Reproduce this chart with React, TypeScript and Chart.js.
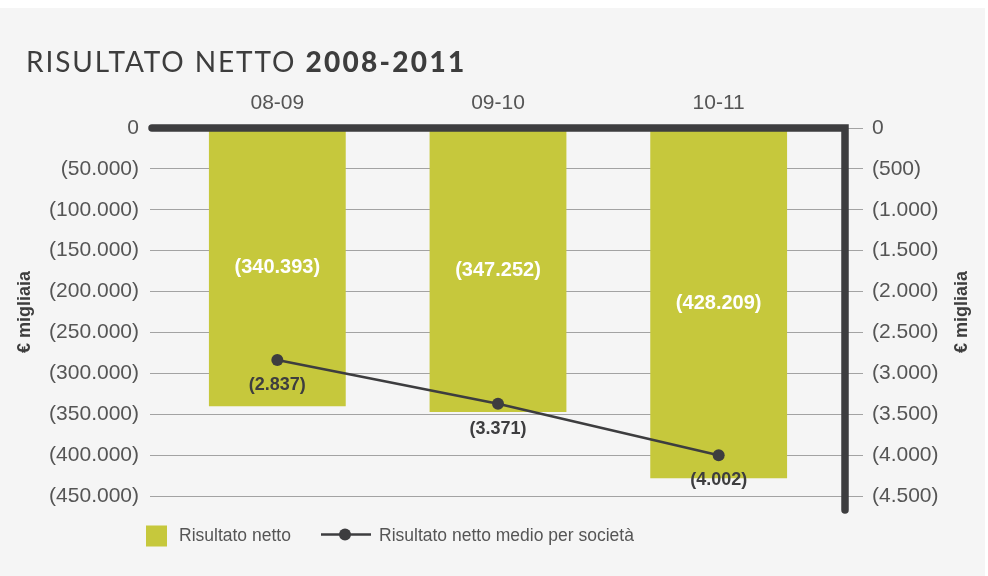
import React, { useEffect, useRef } from 'react';
import { Chart, registerables } from 'chart.js';

Chart.register(...registerables);

const categories = ['08-09', '09-10', '10-11'];
const risultatoNetto = [-340393, -347252, -428209];
const risultatoMedio = [-2837, -3371, -4002];
const leftAxisMin = -450000;
const leftAxisStep = 50000;
const rightAxisMin = -4500;
const rightAxisStep = 500;
const seriesLabels = ['Risultato netto', 'Risultato netto medio per società'];
const titleLight = 'RISULTATO NETTO ';
const titleBold = '2008-2011';
const axisTitle = '€ migliaia';

const BAR = '#c6c83c';
const DARK = '#3d3d3f';
const TICK = '#555555';
const GRID = '#a3a3a3';
const SANS = '"Liberation Sans", Arial, sans-serif';

const fmt = (v: number) => {
  if (v === 0) return '0';
  const s = Math.abs(v).toString().replace(/\B(?=(\d{3})+(?!\d))/g, '.');
  return v < 0 ? `(${s})` : s;
};

const decor = {
  id: 'decor',
  afterDatasetsDraw(chart: any) {
    const { ctx, chartArea } = chart;
    const y = chart.scales.y;
    const zeroY = y.getPixelForValue(0);
    const leftX = chartArea.left - 17 + 2;
    const rightX = chartArea.right + 16;
    const bottomY = chartArea.bottom + 14;
    ctx.save();
    // thick axis frame
    ctx.strokeStyle = DARK;
    ctx.lineWidth = 7.5;
    ctx.lineCap = 'round';
    ctx.lineJoin = 'miter';
    ctx.beginPath();
    ctx.moveTo(leftX, zeroY);
    ctx.lineTo(rightX, zeroY);
    ctx.lineTo(rightX, bottomY);
    ctx.stroke();

    // bar labels
    const barMeta = chart.getDatasetMeta(0);
    ctx.fillStyle = '#ffffff';
    ctx.font = `bold 20px ${SANS}`;
    ctx.textAlign = 'center';
    ctx.textBaseline = 'middle';
    barMeta.data.forEach((el: any, i: number) => {
      ctx.fillText(fmt(risultatoNetto[i]), el.x, (el.y + el.base) / 2);
    });
    // line labels
    const lineMeta = chart.getDatasetMeta(1);
    ctx.fillStyle = DARK;
    ctx.font = `bold 18px ${SANS}`;
    lineMeta.data.forEach((el: any, i: number) => {
      ctx.fillText(fmt(risultatoMedio[i]), el.x, el.y + 25);
    });

    // title
    ctx.textAlign = 'left';
    ctx.textBaseline = 'alphabetic';
    ctx.fillStyle = '#3d3d3d';
    ctx.font = `400 28px Lato, sans-serif`;
    (ctx as any).letterSpacing = '1.9px';
    ctx.fillText(titleLight, 26, 64);
    const w = ctx.measureText(titleLight).width;
    ctx.font = `900 28px Lato, sans-serif`;
    (ctx as any).letterSpacing = '2.3px';
    ctx.fillText(titleBold, 26 + w, 64);
    (ctx as any).letterSpacing = '0px';

    // axis titles
    const midY = (chartArea.top + chartArea.bottom) / 2;
    ctx.font = `bold 18px ${SANS}`;
    ctx.fillStyle = '#3d3d3d';
    ctx.textAlign = 'center';
    ctx.textBaseline = 'middle';
    [25, 962].forEach((x) => {
      ctx.save();
      ctx.translate(x, midY);
      ctx.rotate(-Math.PI / 2);
      ctx.fillText(axisTitle, 0, 0);
      ctx.restore();
    });

    // legend
    const ly = 528;
    ctx.fillStyle = BAR;
    ctx.fillRect(146, ly - 10.5, 21, 21);
    ctx.fillStyle = TICK;
    ctx.font = `17.5px ${SANS}`;
    ctx.textAlign = 'left';
    ctx.textBaseline = 'middle';
    ctx.fillText(seriesLabels[0], 179, ly);
    ctx.strokeStyle = DARK;
    ctx.lineWidth = 2.5;
    ctx.lineCap = 'butt';
    ctx.beginPath();
    ctx.moveTo(321, ly - 1.5);
    ctx.lineTo(371, ly - 1.5);
    ctx.stroke();
    ctx.fillStyle = DARK;
    ctx.beginPath();
    ctx.arc(345, ly - 1.5, 6, 0, Math.PI * 2);
    ctx.fill();
    ctx.fillStyle = TICK;
    ctx.fillText(seriesLabels[1], 379, ly);
    ctx.restore();
  },
};

export default function App() {
  const ref = useRef<HTMLCanvasElement>(null);
  useEffect(() => {
    if (!ref.current) return;
    const chart = new Chart(ref.current, {
      type: 'bar',
      data: {
        labels: categories,
        datasets: [
          {
            type: 'bar',
            label: seriesLabels[0],
            data: risultatoNetto,
            backgroundColor: BAR,
            yAxisID: 'y',
            categoryPercentage: 1,
            barPercentage: 0.62,
            order: 1,
          },
          {
            type: 'line',
            label: seriesLabels[1],
            data: risultatoMedio,
            borderColor: DARK,
            backgroundColor: DARK,
            borderWidth: 2.5,
            pointRadius: 6,
            pointBorderWidth: 0,
            pointBackgroundColor: DARK,
            yAxisID: 'y2',
            order: 0,
          } as any,
        ],
      },
      options: {
        responsive: false,
        animation: false,
        devicePixelRatio: 1,
        layout: { padding: { left: 0, right: 0, top: 0, bottom: 80 } },
        plugins: { legend: { display: false }, tooltip: { enabled: false }, title: { display: false } },
        scales: {
          x: {
            type: 'category',
            position: 'top',
            offset: true,
            grid: { display: false, drawTicks: false },
            border: { display: false },
            ticks: { color: TICK, font: { family: SANS, size: 21 }, padding: 12 },
            afterFit: (s: any) => { s.height = 120; },
          },
          y: {
            position: 'left',
            min: leftAxisMin,
            max: 0,
            grid: { color: GRID, lineWidth: 1, tickLength: 17, drawOnChartArea: true },
            border: { display: false },
            ticks: { stepSize: leftAxisStep, color: TICK, font: { family: SANS, size: 21 }, padding: 11, callback: (v: any) => fmt(Number(v)) },
            afterFit: (s: any) => { s.width = 167; },
          },
          y2: {
            position: 'right',
            min: rightAxisMin,
            max: 0,
            grid: { color: GRID, lineWidth: 1, tickLength: 34, drawOnChartArea: false },
            border: { display: false },
            ticks: { stepSize: rightAxisStep, color: TICK, font: { family: SANS, size: 21 }, padding: 9, callback: (v: any) => fmt(Number(v)) },
            afterFit: (s: any) => { s.width = 156; },
          },
        },
      },
      plugins: [decor],
    });
    return () => chart.destroy();
  }, []);
  return (
    <div style={{ position: 'absolute', left: 0, top: 8, width: 985, height: 568, background: '#f5f5f5' }}>
      <canvas ref={ref} width={985} height={568} style={{ display: 'block' }} />
    </div>
  );
}
